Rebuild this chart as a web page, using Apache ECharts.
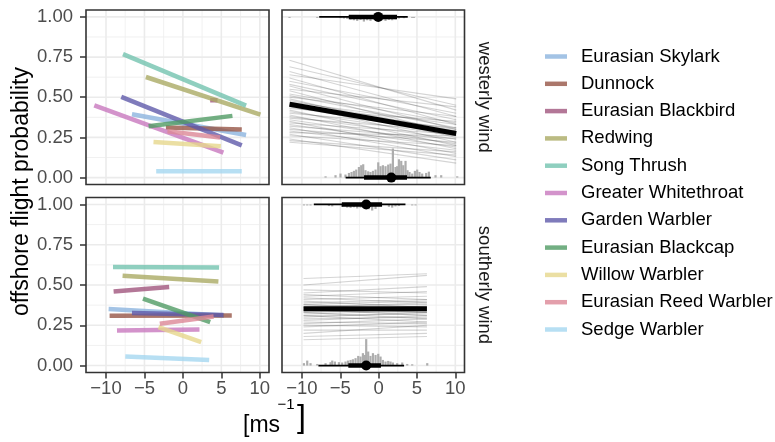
<!DOCTYPE html>
<html>
<head>
<meta charset="utf-8">
<script src="https://cdn.jsdelivr.net/npm/echarts@6/dist/echarts.min.js"></script>
<style>
  html, body { margin: 0; padding: 0; background: #fff; }
  #main-chart { width: 775px; height: 442px; }
</style>
</head>
<body>
<div id="main-chart"></div>
<script>
// species (legend order) and their colours
const species = ['Eurasian Skylark', 'Dunnock', 'Eurasian Blackbird', 'Redwing', 'Song Thrush',
  'Greater Whitethroat', 'Garden Warbler', 'Eurasian Blackcap', 'Willow Warbler',
  'Eurasian Reed Warbler', 'Sedge Warbler'];
const speciesColors = ['#8cb4de', '#965546', '#a0557d', '#aaaa64', '#73c3af',
  '#c878be', '#5f5aaa', '#509b64', '#e6d78c', '#dc8796', '#a5d7f0'];

// westerly wind: fitted line per species, start/end x and y
const westX0 = [-6.62, -2.21, 3.55, -4.81, -7.79, -11.52, -8.01, -4.46, -3.82, -2.0, -3.47];
const westX1 = [8.22, 7.66, 4.5, 10.08, 8.22, 5.27, 7.66, 6.44, 4.93, 4.84, 7.66];
const westY0 = [0.394, 0.311, 0.481, 0.626, 0.768, 0.450, 0.502, 0.319, 0.222, 0.288, 0.039];
const westY1 = [0.265, 0.299, 0.481, 0.392, 0.448, 0.156, 0.201, 0.384, 0.195, 0.249, 0.039];

// southerly wind
const southX0 = [-9.66, -9.53, -9.01, -7.84, -9.09, -8.57, -6.62, -5.19, -3.17, -3.0, -7.49];
const southX1 = [5.36, 6.36, -1.78, 4.62, 4.71, 2.16, 5.27, 3.55, 2.38, 4.0, 3.42];
const southY0 = [0.351, 0.309, 0.459, 0.558, 0.612, 0.218, 0.326, 0.415, 0.239, 0.259, 0.056];
const southY1 = [0.311, 0.311, 0.488, 0.521, 0.608, 0.224, 0.314, 0.270, 0.146, 0.305, 0.035];

// overall effect: mean line and posterior draws (y at left and right end)
const westMeanX = [-11.62, 0, 10.12];
const westMeanY = [0.456, 0.360, 0.274];
const westDrawsLeft = [0.73, 0.69, 0.66, 0.64, 0.62, 0.60, 0.58, 0.57, 0.55, 0.54, 0.52, 0.51, 0.50, 0.49,
  0.48, 0.47, 0.46, 0.45, 0.44, 0.43, 0.42, 0.41, 0.40, 0.39, 0.38, 0.37, 0.36, 0.35, 0.34, 0.33,
  0.32, 0.31, 0.30, 0.29, 0.28, 0.27, 0.26, 0.24, 0.23, 0.22];
const westDrawsRight = [0.42, 0.45, 0.38, 0.49, 0.33, 0.40, 0.36, 0.30, 0.44, 0.27, 0.34, 0.31, 0.38, 0.25,
  0.29, 0.33, 0.22, 0.30, 0.27, 0.35, 0.20, 0.26, 0.31, 0.18, 0.24, 0.29, 0.21, 0.15, 0.27, 0.19,
  0.24, 0.13, 0.22, 0.17, 0.26, 0.11, 0.20, 0.09, 0.16, 0.14];

const southMeanX = [-9.79, 6.3];
const southMeanY = [0.353, 0.353];
const southDrawsLeft = [0.54, 0.50, 0.47, 0.45, 0.44, 0.43, 0.42, 0.41, 0.40, 0.39, 0.38, 0.38, 0.37, 0.36,
  0.36, 0.35, 0.35, 0.34, 0.34, 0.33, 0.33, 0.32, 0.31, 0.31, 0.30, 0.29, 0.28, 0.27, 0.26, 0.25,
  0.24, 0.22, 0.20, 0.18, 0.16];
const southDrawsRight = [0.57, 0.56, 0.45, 0.49, 0.41, 0.46, 0.39, 0.43, 0.36, 0.41, 0.40, 0.34, 0.38, 0.33,
  0.39, 0.36, 0.31, 0.37, 0.33, 0.35, 0.29, 0.34, 0.32, 0.27, 0.33, 0.30, 0.31, 0.26, 0.29, 0.24,
  0.27, 0.22, 0.25, 0.20, 0.18];

// wind distributions: [outer low, inner low, median, inner high, outer high]
const westIntervalAt1 = [-7.75, -3.9, -0.05, 2.4, 3.8];
const westIntervalAt0 = [-4.3, -1.9, 1.65, 3.7, 6.8];
const southIntervalAt1 = [-8.45, -4.8, -1.62, 0.45, 3.5];
const southIntervalAt0 = [-7.85, -3.95, -1.62, 0.3, 3.32];

// histograms of wind values (bar position, bar height)
const westHist1X = [-11.62, -8.0, -4.97, -4.53, -4.10, -3.66, -3.22, -2.79, -2.36, -1.92, -1.49, -1.06,
  -0.61, 0.47, 0.90, 1.34, 1.77, 2.20, 2.65, 3.30, 4.38, 4.60];
const westHist1H = [0.006, 0.006, 0.008, 0.01, 0.012, 0.017, 0.021, 0.025, 0.019, 0.029, 0.021, 0.025,
  0.017, 0.021, 0.025, 0.019, 0.021, 0.015, 0.01, 0.008, 0.006, 0.006];
const westHist0X = [-6.92, -5.62, -4.97, -4.32, -3.87, -3.53, -3.22, -2.92, -2.57, -2.27, -2.01, -1.71,
  -1.36, -1.06, -0.74, -0.40, -0.05, 0.25, 0.56, 0.90, 1.25, 1.55, 1.86, 2.20, 2.42, 2.65, 2.95,
  3.21, 3.51, 3.77, 4.03, 4.38, 4.73, 5.03, 5.33, 5.68, 6.20, 6.55, 7.42, 8.16, 10.25];
const westHist0H = [0.008, 0.015, 0.025, 0.019, 0.029, 0.035, 0.042, 0.05, 0.066, 0.077, 0.083, 0.046,
  0.039, 0.035, 0.042, 0.05, 0.095, 0.071, 0.077, 0.071, 0.081, 0.087, 0.181, 0.066, 0.071, 0.114,
  0.104, 0.077, 0.104, 0.046, 0.035, 0.025, 0.042, 0.05, 0.035, 0.025, 0.029, 0.037, 0.015, 0.015, 0.008];
const southHist1X = [-9.74, -9.31, -8.88, -6.48, -6.05, -4.75, -4.10, -3.66, -3.22, -2.79, -2.36, -1.27,
  -0.84, -0.40, 1.34, 1.77, 2.20, 2.65, 4.38, 4.82];
const southHist1H = [0.006, 0.006, 0.006, 0.01, 0.012, 0.015, 0.02, 0.022, 0.018, 0.025, 0.02, 0.03,
  0.038, 0.028, 0.015, 0.02, 0.012, 0.01, 0.006, 0.006];
const southHist0X = [-9.74, -9.31, -8.88, -8.0, -6.92, -6.27, -6.05, -5.70, -5.18, -4.75, -4.32, -4.0,
  -3.66, -3.35, -3.01, -2.66, -2.36, -2.05, -1.79, -1.62, -1.36, -1.06, -0.74, -0.40, -0.05, 0.25,
  0.56, 0.90, 1.25, 1.55, 1.86, 2.42, 3.08, 3.73, 4.38, 6.34];
const southHist0H = [0.015, 0.031, 0.015, 0.010, 0.015, 0.021, 0.031, 0.025, 0.021, 0.019, 0.025, 0.031,
  0.035, 0.039, 0.046, 0.06, 0.056, 0.077, 0.066, 0.164, 0.087, 0.06, 0.077, 0.066, 0.073, 0.056,
  0.035, 0.025, 0.029, 0.025, 0.019, 0.015, 0.019, 0.010, 0.008, 0.015];

// axes
const xTicks = [-10, -5, 0, 5, 10];
const xMinorTicks = [-7.5, -2.5, 2.5, 7.5];
const yTicks = [0, 0.25, 0.5, 0.75, 1];
const yMinorTicks = [0.125, 0.375, 0.625, 0.875];
const xMin = -12.6, xMax = 11.2, yMin = -0.043, yMax = 1.043;

const fontFamily = "'Liberation Sans', Arial, Helvetica, sans-serif";

window.addEventListener('load', () => {
  const chart = echarts.init(document.getElementById('main-chart'), null, { renderer: 'canvas' });

  const grids = [
    { left: 86, top: 10, width: 183, height: 174.5 },
    { left: 282, top: 10, width: 182.5, height: 174.5 },
    { left: 86, top: 197.5, width: 183, height: 175 },
    { left: 282, top: 197.5, width: 182.5, height: 175 }
  ].map(g => Object.assign(g, {
    show: true, borderColor: '#333', borderWidth: 1.6, backgroundColor: 'transparent', z: 10
  }));

  const xAxes = [0, 1, 2, 3].map(i => ({
    type: 'value', gridIndex: i, min: xMin, max: xMax, position: 'bottom',
    axisLine: { show: false, onZero: false }, splitLine: { show: false },
    axisTick: { show: i >= 2, customValues: xTicks, length: 6, lineStyle: { color: '#333', width: 1.5 } },
    axisLabel: {
      show: i >= 2, customValues: xTicks, margin: 7, color: '#4d4d4d', fontSize: 18.5, fontFamily,
      formatter: v => (v < 0 ? '\u2212' + Math.abs(v) : String(v))
    }
  }));
  const yAxes = [0, 1, 2, 3].map(i => ({
    type: 'value', gridIndex: i, min: yMin, max: yMax, position: 'left',
    axisLine: { show: false, onZero: false }, splitLine: { show: false },
    axisTick: { show: i % 2 === 0, customValues: yTicks, length: 6, lineStyle: { color: '#333', width: 1.5 } },
    axisLabel: {
      show: i % 2 === 0, customValues: yTicks, margin: 13, color: '#4d4d4d', fontSize: 18.5, fontFamily,
      formatter: v => v.toFixed(2)
    }
  }));

  const series = [];

  // panel grid lines: [value, 0 = vertical / 1 = horizontal, 1 = major]
  const gridData = [];
  xMinorTicks.forEach(v => gridData.push([v, 0, 0]));
  yMinorTicks.forEach(v => gridData.push([v, 1, 0]));
  xTicks.forEach(v => gridData.push([v, 0, 1]));
  yTicks.forEach(v => gridData.push([v, 1, 1]));
  for (let i = 0; i < 4; i++) {
    series.push({
      type: 'custom', xAxisIndex: i, yAxisIndex: i, silent: true, z: 1, clip: false,
      encode: { x: -1, y: -1 },
      data: gridData,
      renderItem: (params, api) => {
        const v = api.value(0), horiz = api.value(1) === 1, major = api.value(2) === 1;
        const a = horiz ? api.coord([xMin, v]) : api.coord([v, yMin]);
        const b = horiz ? api.coord([xMax, v]) : api.coord([v, yMax]);
        return {
          type: 'line',
          shape: { x1: a[0], y1: a[1], x2: b[0], y2: b[1] },
          style: { stroke: major ? '#ebebeb' : '#efefef', lineWidth: major ? 1.6 : 0.9 }
        };
      }
    });
  }

  // species lines
  species.forEach((name, k) => {
    const common = {
      type: 'line', name, symbol: 'none', silent: true, z: 4,
      lineStyle: { color: speciesColors[k], width: 4.5, opacity: 0.8 },
      itemStyle: { color: speciesColors[k] }
    };
    series.push(Object.assign({}, common, {
      xAxisIndex: 0, yAxisIndex: 0, data: [[westX0[k], westY0[k]], [westX1[k], westY1[k]]]
    }));
    series.push(Object.assign({}, common, {
      xAxisIndex: 2, yAxisIndex: 2, data: [[southX0[k], southY0[k]], [southX1[k], southY1[k]]]
    }));
  });

  // posterior draws
  function drawsSeries(axis, meanX, left, right) {
    const x0 = meanX[0], x1 = meanX[meanX.length - 1];
    return {
      type: 'custom', xAxisIndex: axis, yAxisIndex: axis, silent: true, z: 2,
      encode: { x: -1, y: -1 },
      data: left.map((y0, k) => [y0, right[k]]),
      renderItem: (params, api) => {
        const a = api.coord([x0, api.value(0)]);
        const b = api.coord([x1, api.value(1)]);
        return {
          type: 'line',
          shape: { x1: a[0], y1: a[1], x2: b[0], y2: b[1] },
          style: { stroke: 'rgba(0,0,0,0.17)', lineWidth: 1.1 }
        };
      }
    };
  }
  series.push(drawsSeries(1, westMeanX, westDrawsLeft, westDrawsRight));
  series.push(drawsSeries(3, southMeanX, southDrawsLeft, southDrawsRight));

  // histograms
  function histSeries(axis, xs, hs, base, dir) {
    return {
      type: 'custom', xAxisIndex: axis, yAxisIndex: axis, silent: true, z: 3,
      encode: { x: 0, y: -1 },
      data: xs.map((x, k) => [x, hs[k]]),
      renderItem: (params, api) => {
        const x = api.value(0), h = api.value(1);
        const a = api.coord([x, base]);
        const b = api.coord([x, base + dir * h]);
        return {
          type: 'rect',
          shape: { x: a[0] - 1.1, y: Math.min(a[1], b[1]), width: 2.2, height: Math.max(1, Math.abs(b[1] - a[1])) },
          style: { fill: '#adadad' }
        };
      }
    };
  }
  series.push(histSeries(1, westHist1X, westHist1H, 1, -1));
  series.push(histSeries(1, westHist0X, westHist0H, 0, 1));
  series.push(histSeries(3, southHist1X, southHist1H, 1, -1));
  series.push(histSeries(3, southHist0X, southHist0H, 0, 1));

  // mean lines
  series.push({
    type: 'line', xAxisIndex: 1, yAxisIndex: 1, symbol: 'none', silent: true, z: 5,
    data: westMeanX.map((x, k) => [x, westMeanY[k]]), lineStyle: { color: '#000', width: 5 }
  });
  series.push({
    type: 'line', xAxisIndex: 3, yAxisIndex: 3, symbol: 'none', silent: true, z: 5,
    data: southMeanX.map((x, k) => [x, southMeanY[k]]), lineStyle: { color: '#000', width: 5 }
  });

  // interval + median dots
  function intervalSeries(axis, iv, yv) {
    return [
      { type: 'line', xAxisIndex: axis, yAxisIndex: axis, symbol: 'none', silent: true, z: 6,
        data: [[iv[0], yv], [iv[4], yv]], lineStyle: { color: '#000', width: 1.8 } },
      { type: 'line', xAxisIndex: axis, yAxisIndex: axis, symbol: 'none', silent: true, z: 6,
        data: [[iv[1], yv], [iv[3], yv]], lineStyle: { color: '#000', width: 4.5 } },
      { type: 'scatter', xAxisIndex: axis, yAxisIndex: axis, silent: true, z: 7,
        data: [[iv[2], yv]], symbolSize: 10, itemStyle: { color: '#000', opacity: 1 } }
    ];
  }
  series.push(...intervalSeries(1, westIntervalAt1, 1));
  series.push(...intervalSeries(1, westIntervalAt0, 0));
  series.push(...intervalSeries(3, southIntervalAt1, 1));
  series.push(...intervalSeries(3, southIntervalAt0, 0));

  const titleFont = '23px ' + fontFamily;
  const stripFont = '18.5px ' + fontFamily;
  const mid = { textVerticalAlign: 'middle', verticalAlign: 'middle' };

  const option = {
    animation: false,
    backgroundColor: '#fff',
    grid: grids,
    xAxis: xAxes,
    yAxis: yAxes,
    legend: {
      orient: 'vertical', left: 540, top: 41.5, icon: 'rect',
      itemWidth: 22, itemHeight: 4.5, itemGap: 7.3, selectedMode: false,
      data: species.map((n, k) => ({ name: n, itemStyle: { color: speciesColors[k], opacity: 0.8 } })),
      textStyle: { fontSize: 18.5, lineHeight: 20, color: '#000', fontFamily, padding: [0, 0, 0, 9] }
    },
    graphic: [
      { type: 'text', x: 22, y: 191.5, rotation: Math.PI / 2,
        style: Object.assign({ text: 'offshore flight probability', font: titleFont, fill: '#000',
          textAlign: 'center', align: 'center' }, mid) },
      { type: 'text', x: 484, y: 97.3, rotation: -Math.PI / 2,
        style: Object.assign({ text: 'westerly wind', font: stripFont, fill: '#1a1a1a',
          textAlign: 'center', align: 'center' }, mid) },
      { type: 'text', x: 484, y: 285, rotation: -Math.PI / 2,
        style: Object.assign({ text: 'southerly wind', font: stripFont, fill: '#1a1a1a',
          textAlign: 'center', align: 'center' }, mid) },
      { type: 'text', x: 243, y: 426,
        style: Object.assign({ text: '[ms', font: titleFont, fill: '#000', textAlign: 'left', align: 'left' }, mid) },
      { type: 'text', x: 277.5, y: 405,
        style: Object.assign({ text: '\u22121', font: '15px ' + fontFamily, fill: '#000', textAlign: 'left', align: 'left' }, mid) },
      { type: 'text', x: 297, y: 418,
        style: Object.assign({ text: ']', font: '32px ' + fontFamily, fill: '#000', textAlign: 'left', align: 'left' }, mid) }
    ],
    series
  };
  chart.setOption(option);
});
</script>
</body>
</html>
